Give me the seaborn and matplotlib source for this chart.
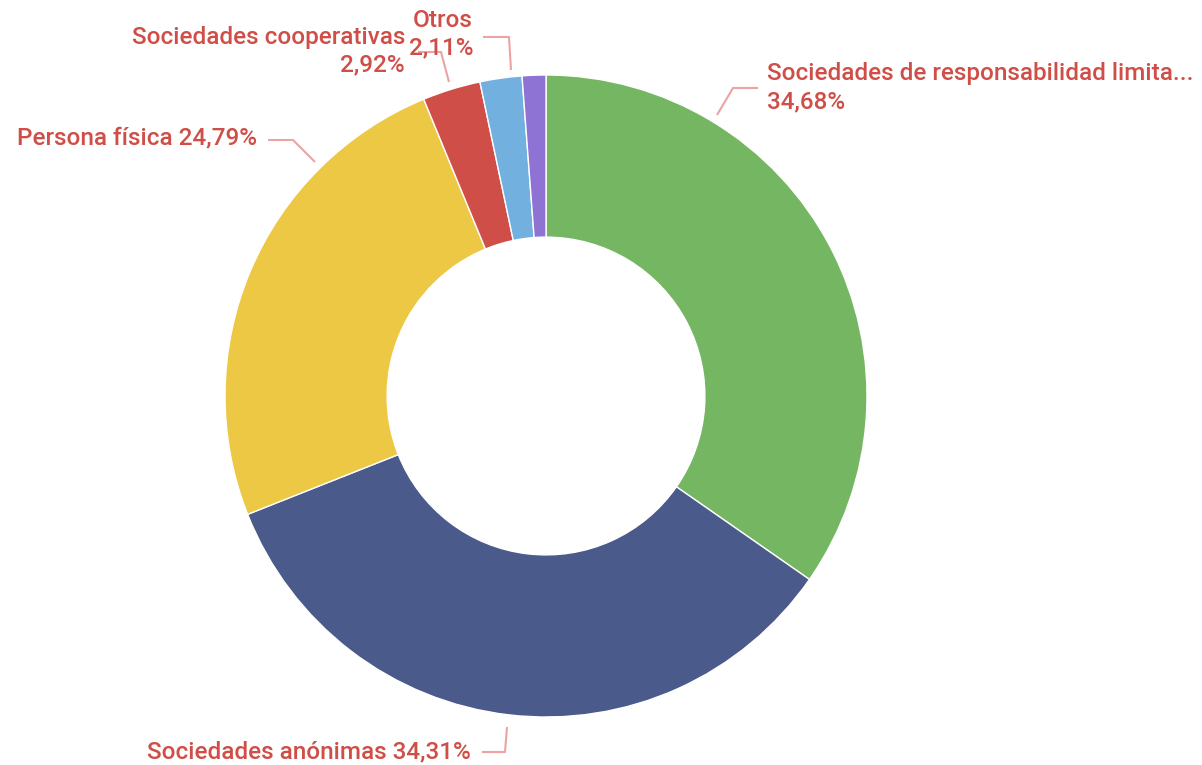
import matplotlib
matplotlib.use("Agg")
import matplotlib.pyplot as plt
import seaborn as sns

categories = ["Sociedades de responsabilidad limita...", "Sociedades anónimas", "Persona física",
              "Sociedades cooperativas", "Otros", ""]
values = [34.68, 34.31, 24.79, 2.92, 2.11, 1.19]
colors = ["#74B662", "#4A5A8A", "#ECC844", "#CF4E47", "#72B0E0", "#8E72D4"]

sns.set_theme(style="white")
plt.rcParams['font.family'] = ['Roboto', 'DejaVu Sans']

W, H = 1202, 765
fig = plt.figure(figsize=(W / 100, H / 100), dpi=100)
ax = fig.add_axes([0, 0, 1, 1])
ax.set_xlim(0, W)
ax.set_ylim(0, H)
ax.set_aspect('equal')
ax.axis('off')

def P(x, y):
    return (x, H - y)

cx, cy = P(546, 396)
R = 321
ax.pie(values, colors=colors, startangle=90, counterclock=False, center=(cx, cy), radius=R,
       wedgeprops=dict(width=R * 0.505, edgecolor='white', linewidth=1), frame=True)
ax.set_xlim(0, W)
ax.set_ylim(0, H)
ax.axis('off')

txt_col = "#CF4E47"
line_col = "#EBA3A3"
fs = 17.5
fw = 'medium'

def fmt(v):
    return f"{v:.2f}".replace(".", ",") + "%"

def leader(pts):
    xs = [P(*p)[0] for p in pts]
    ys = [P(*p)[1] for p in pts]
    ax.plot(xs, ys, color=line_col, lw=1.5, solid_capstyle='butt')

def label(x, y, s, ha):
    ax.text(*P(x, y), s, color=txt_col, fontsize=fs, fontweight=fw, ha=ha, va='center')

# SRL
leader([(717, 115), (733, 88), (758, 88)])
label(767, 73, categories[0], 'left')
label(767, 102, fmt(values[0]), 'left')
# SA
leader([(507, 727), (505, 752), (482, 752)])
label(471, 752, f"{categories[1]} {fmt(values[1])}", 'right')
# Persona fisica
leader([(315, 162), (293, 140), (268, 140)])
label(257, 138, f"{categories[2]} {fmt(values[2])}", 'right')
# Coop
leader([(449, 82), (441, 52), (418, 52)])
label(405, 37, categories[3], 'right')
label(405, 65, fmt(values[3]), 'right')
# Otros
leader([(511, 70), (509, 37), (483, 37)])
label(473, 20, categories[4], 'right')
label(473, 48, fmt(values[4]), 'right')

fig.savefig("out.png", dpi=100, facecolor='white')
